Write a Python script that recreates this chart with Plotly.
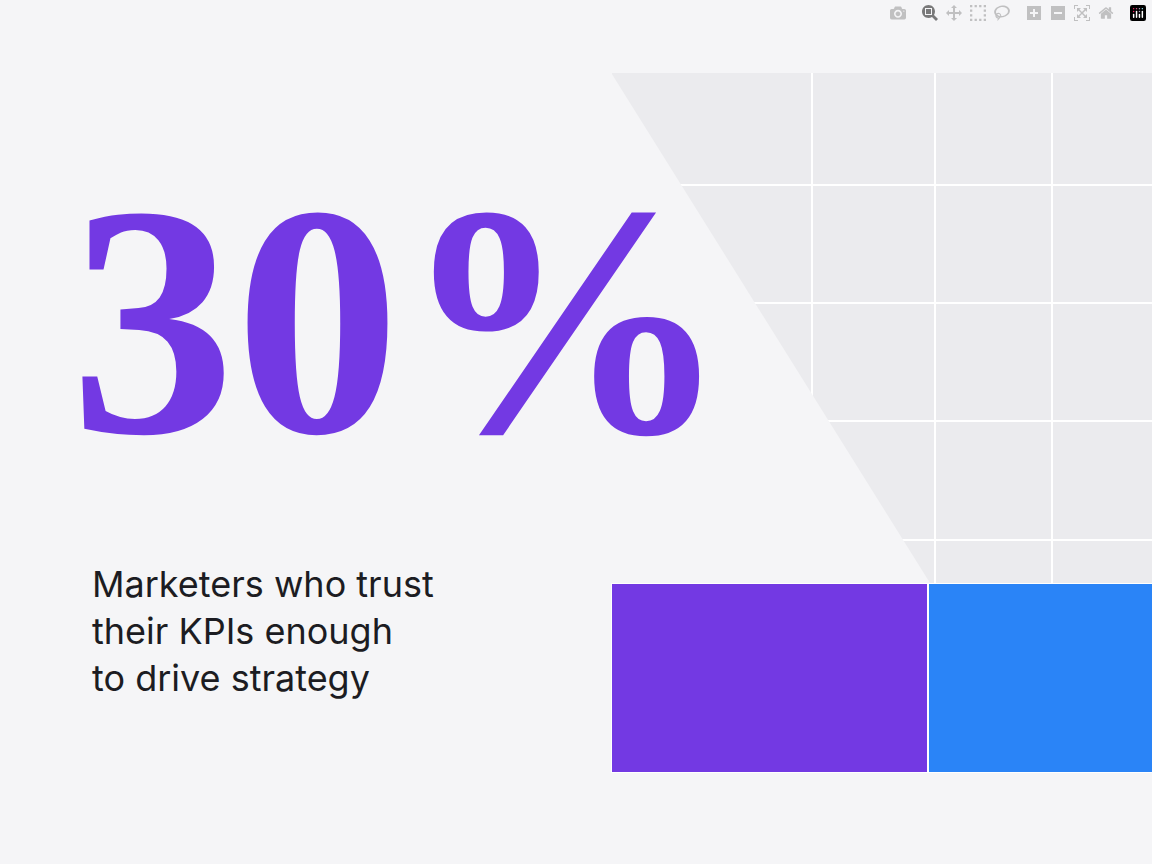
import plotly.graph_objects as go

categories = ["Marketers"]
series_names = ["Trust KPIs", "Do not"]
values = [30, 70]
colors = ["#7339e3", "#2a84f7"]
headline = "30%"
caption = ["Marketers who trust", "their KPIs enough", "to drive strategy"]

W, H = 1152, 864
BG = "#f5f5f7"
def px(x): return x / W
def py(y): return 1 - y / H

fig = go.Figure()
for name, v, c in zip(series_names, values, colors):
    fig.add_trace(go.Bar(y=categories, x=[v], name=name, orientation="h",
                         marker=dict(color=c, line=dict(color="white", width=2)),
                         showlegend=False, hoverinfo="skip"))

shapes = [dict(type="rect", xref="paper", yref="paper", x0=px(612), x1=1, y0=py(583), y1=py(73),
               fillcolor="#ebebee", line_width=0, layer="below")]
for gx in [812, 935, 1052]:
    shapes.append(dict(type="line", xref="paper", yref="paper", x0=px(gx), x1=px(gx), y0=py(583), y1=py(73),
                       line=dict(color="white", width=2), layer="below"))
for gy in [185, 303, 421, 540]:
    shapes.append(dict(type="line", xref="paper", yref="paper", x0=px(612), x1=1, y0=py(gy), y1=py(gy),
                       line=dict(color="white", width=2), layer="below"))
shapes.append(dict(type="path", xref="paper", yref="paper",
                   path=f"M {px(610)} {py(71)} L {px(930)} {py(583)} L {px(610)} {py(583)} Z",
                   fillcolor=BG, line_width=0, layer="below"))

fig.update_layout(
    width=W, height=H, margin=dict(l=0, r=0, t=0, b=0),
    paper_bgcolor=BG, plot_bgcolor="rgba(0,0,0,0)",
    barmode="stack", bargap=0,
    xaxis=dict(domain=[px(611), 1], range=[0, 51.2], visible=False, fixedrange=True),
    yaxis=dict(domain=[py(773), py(583)], visible=False),
    shapes=shapes,
    annotations=[
        dict(text="<b>" + headline + "</b>", xref="paper", yref="paper", x=px(68), y=py(320), xanchor="left",
             yanchor="middle", showarrow=False,
             font=dict(family="Liberation Serif", size=330, color=colors[0])),
        dict(text="<br>".join(caption), xref="paper", yref="paper", x=px(90), y=py(560), xanchor="left",
             yanchor="top", align="left", showarrow=False,
             font=dict(family="Inter", size=36, color="#1c1c22")),
    ],
)
fig.write_html("out.html",
               post_script="document.body.style.margin='0';document.body.style.background='#f5f5f7';")
